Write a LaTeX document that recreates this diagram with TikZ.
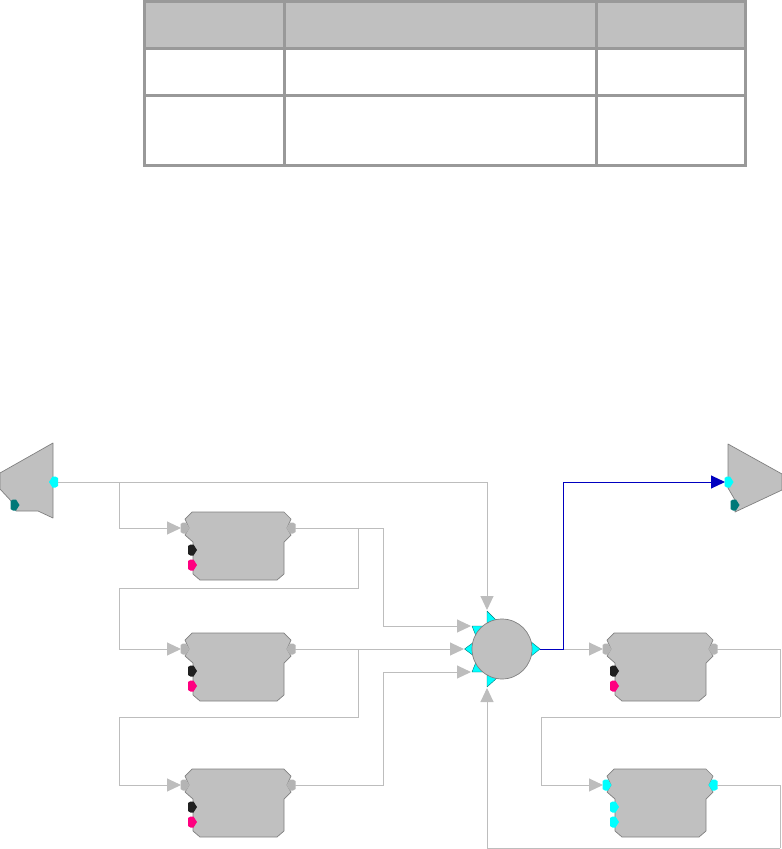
\documentclass[tikz,border=0pt]{standalone}
\usepackage{tikz}
\usetikzlibrary{arrows.meta, positioning, calc}

\definecolor{bodygray}{HTML}{C0C0C0}
\definecolor{edgegray}{HTML}{808080}
\definecolor{wiregray}{HTML}{BDBDBD}
\definecolor{tablegray}{HTML}{999999}
\definecolor{portgray}{HTML}{B4B4B4}
\definecolor{portcyan}{HTML}{00FFFF}
\definecolor{portteal}{HTML}{007878}
\definecolor{portpink}{HTML}{FF0080}
\definecolor{portblack}{HTML}{202020}
\definecolor{wireblue}{HTML}{0000C0}

\tikzset{
    body/.style={fill=bodygray, draw=edgegray, line width=0.7pt, line join=round},
    wire/.style={draw=wiregray, line width=1pt},
    feed/.style={wire, -{Triangle[length=14pt, width=13pt, fill=wiregray]}},
    bluefeed/.style={draw=wireblue, line width=1pt, -{Triangle[length=14pt, width=13pt, fill=wireblue]}},
    prong/.style={fill=portcyan, draw=portteal, line width=0.4pt, line join=round},
    tablerule/.style={draw=tablegray, line width=3pt},
}

% port with its point to the right, at #2,#3
\newcommand{\portin}[3]{
    \fill[#1] (#2-4.5,#3-4) -- (#2-2,#3-5.5) -- (#2+1,#3-5.5) -- (#2+4.5,#3)
        -- (#2+1,#3+5.5) -- (#2-2,#3+5.5) -- (#2-4.5,#3+4) -- cycle;
}
% port with its point to the left
\newcommand{\portout}[3]{
    \fill[#1] (#2+4.5,#3-4) -- (#2+2,#3-5.5) -- (#2-1,#3-5.5) -- (#2-4.5,#3)
        -- (#2-1,#3+5.5) -- (#2+2,#3+5.5) -- (#2+4.5,#3+4) -- cycle;
}
% block: name, x and y of its input port, colours of the three ports
\newcommand{\block}[6]{
    \pgfmathsetmacro{\bx}{#2}
    \pgfmathsetmacro{\bxr}{#2+106}
    \pgfmathsetmacro{\bxs}{#2+7.5}
    \pgfmathsetmacro{\bya}{#3+22}
    \pgfmathsetmacro{\byb}{#3+37}
    \draw[body, shift={(#2,#3)}] (7,-16) -- (99,-16) -- (106,-9) -- (102,0) -- (106,7) -- (99,14) -- (99,46)
        -- (92,52) -- (15,52) -- (8,46) -- (8,14) -- (0,7) -- (4,0) -- (0,-9) -- cycle;
    \portin{#4}{\bx}{#3}
    \portout{#4}{\bxr}{#3}
    \portin{#5}{\bxs}{\bya}
    \portin{#6}{\bxs}{\byb}
    \coordinate (#1in) at (#2-4,#3);
    \coordinate (#1out) at (#2+110,#3);
}

\begin{document}
\begin{tikzpicture}[x=1pt, y=-1pt]
    \useasboundingbox (0,0) rectangle (782,849);

    % Table
    \fill[bodygray] (145,2) rectangle (745,48);
    \draw[tablerule] (144.5,1.5) rectangle (745.5,165);
    \draw[tablerule] (144.5,48) -- (745.5,48);
    \draw[tablerule] (144.5,95) -- (745.5,95);
    \draw[tablerule] (284,1.5) -- (284,165);
    \draw[tablerule] (596,1.5) -- (596,165);

    % Source
    \draw[body] (53,443) -- (53,518) -- (38,511) -- (16,511) -- (13,503) -- (0,489) -- (0,473) -- cycle;
    \portout{portcyan}{53.5}{482}
    \portin{portteal}{15}{505}
    \coordinate (srcout) at (58,482);

    % Output
    \draw[body] (728,444) -- (782,474) -- (782,490) -- (735,512) -- (735,500) -- (728,488) -- cycle;
    \portin{portcyan}{729}{482}
    \portin{portteal}{735}{505}
    \coordinate (dstin) at (725,482);

    % Blocks
    \block{mone}{185}{528}{portgray}{portblack}{portpink}
    \block{mtwo}{185}{649}{portgray}{portblack}{portpink}
    \block{mthree}{185}{785}{portgray}{portblack}{portpink}
    \block{rone}{607}{649}{portgray}{portblack}{portpink}
    \block{rtwo}{607}{785}{portcyan}{portcyan}{portcyan}

    % Summer
    \draw[prong] (487,611) -- (496,620) -- (487,623) -- cycle;
    \draw[prong] (472,626) -- (483,626) -- (476,636) -- cycle;
    \draw[prong] (464.5,649) -- (478,639) -- (478,659) -- cycle;
    \draw[prong] (472,672) -- (483,672) -- (476,662) -- cycle;
    \draw[prong] (487,687) -- (497,678) -- (487,675) -- cycle;
    \draw[prong] (540,649) -- (530,641) -- (530,657) -- cycle;
    \node[circle, body, minimum size=60pt, inner sep=0pt] (sum) at (502,649) {};

    % Corners and branch points of the wires
    \coordinate (sumtop) at (487,610);
    \coordinate (sumup) at (471,626);
    \coordinate (summid) at (464,649);
    \coordinate (sumlow) at (471,672);
    \coordinate (sumbot) at (487,688);
    \coordinate (sumout) at (540,649);
    \coordinate (srcbr) at (119,482);
    \coordinate (onebr) at (358,528);
    \coordinate (onebk) at (119,588);
    \coordinate (twobr) at (358,649);
    \coordinate (twobk) at (119,717);
    \coordinate (upjog) at (383,626);
    \coordinate (lowjog) at (383,672);
    \coordinate (outbr) at (563,649);
    \coordinate (ronebk) at (780,717);
    \coordinate (rtwobk) at (541,717);
    \coordinate (rtworet) at (780,848);

    % Wires
    \draw[feed] (srcout) -| (sumtop);
    \draw[feed] (srcbr) |- (monein);
    \draw[wire] (moneout) -| (upjog);
    \draw[feed] (upjog) -- (sumup);
    \draw[wire] (onebr) |- (onebk);
    \draw[feed] (onebk) |- (mtwoin);
    \draw[feed] (mtwoout) -- (summid);
    \draw[wire] (twobr) |- (twobk);
    \draw[feed] (twobk) |- (mthreein);
    \draw[wire] (mthreeout) -| (lowjog);
    \draw[feed] (lowjog) -- (sumlow);
    \draw[feed] (outbr) -- (ronein);
    \draw[wire] (roneout) -| (ronebk);
    \draw[wire] (ronebk) -- (rtwobk);
    \draw[feed] (rtwobk) |- (rtwoin);
    \draw[wire] (rtwoout) -| (rtworet);
    \draw[feed] (rtworet) -| (sumbot);
    \draw[bluefeed] (sumout) -- (outbr) |- (dstin);
\end{tikzpicture}
\end{document}
